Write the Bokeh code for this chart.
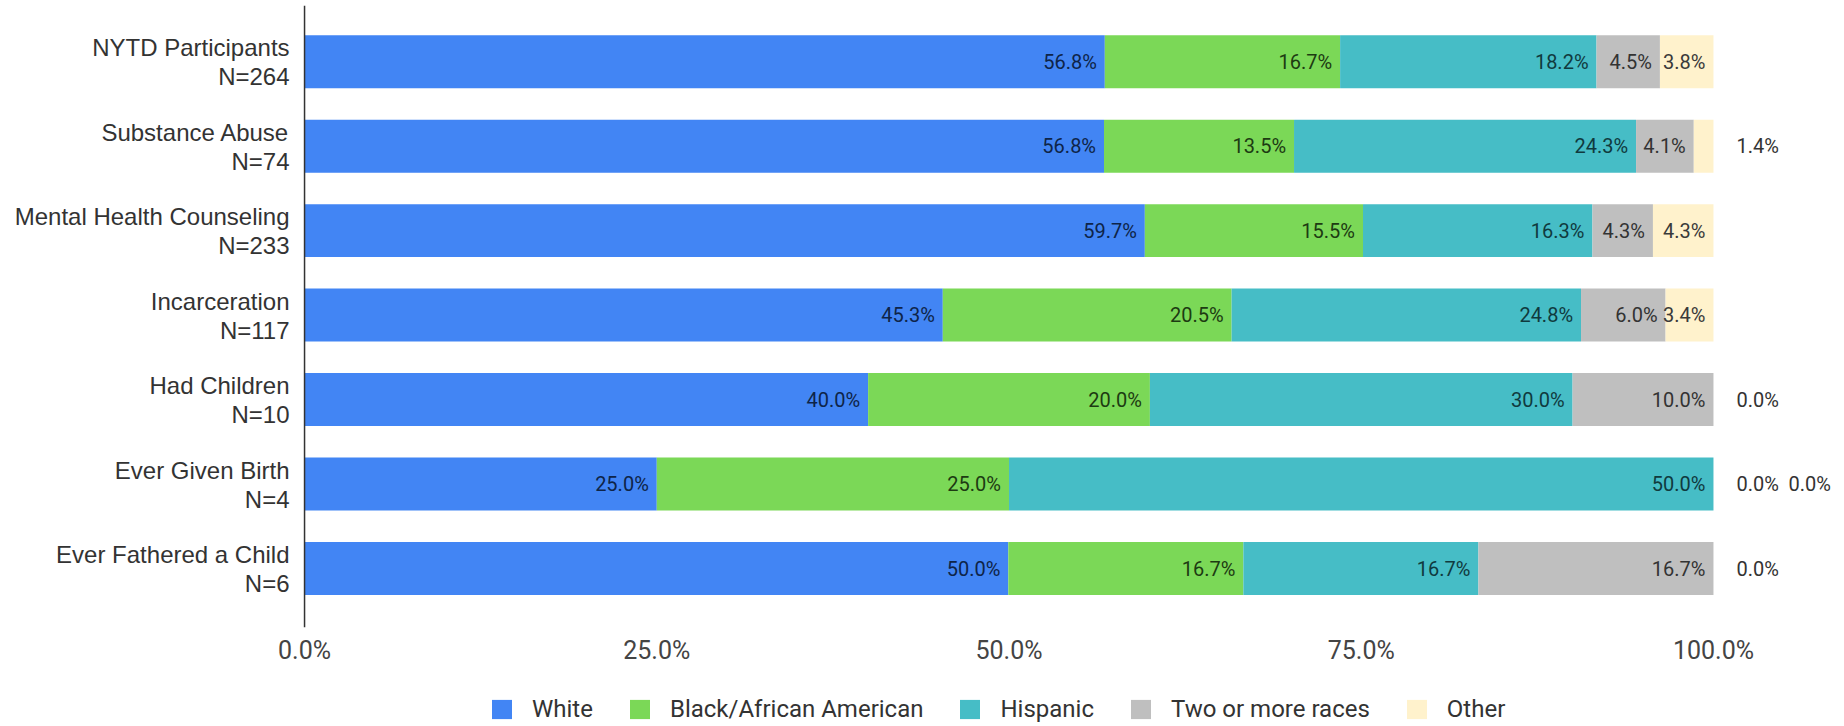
from bokeh.plotting import figure
from bokeh.layouts import column
from bokeh.models import (ColumnDataSource, Range1d, FixedTicker, Legend, LegendItem, Span)
from bokeh.core.properties import value
from bokeh.embed import file_html
from bokeh.resources import INLINE

categories = ["NYTD Participants", "Substance Abuse", "Mental Health Counseling",
              "Incarceration", "Had Children", "Ever Given Birth", "Ever Fathered a Child"]
sample_sizes = ["N=264", "N=74", "N=233", "N=117", "N=10", "N=4", "N=6"]
races = ["White", "Black/African American", "Hispanic", "Two or more races", "Other"]
white = [56.8, 56.8, 59.7, 45.3, 40.0, 25.0, 50.0]
black = [16.7, 13.5, 15.5, 20.5, 20.0, 25.0, 16.7]
hispanic = [18.2, 24.3, 16.3, 24.8, 30.0, 50.0, 16.7]
two_more = [4.5, 4.1, 4.3, 6.0, 10.0, 0.0, 16.7]
other = [3.8, 1.4, 4.3, 3.4, 0.0, 0.0, 0.0]
x_ticks = [0, 25, 50, 75, 100]
tick_labels = ["0.0%", "25.0%", "50.0%", "75.0%", "100.0%"]

colors = ["#4285F4", "#7BD857", "#46BDC6", "#BFBFBF", "#FFF2CC"]
label_colors = ["#0e2448", "#1d3b12", "#103a3e", "#333333", "#3a3a3a"]

series = [white, black, hispanic, two_more, other]
n = len(categories)
ypos = [n - 1 - k for k in range(n)]

p = figure(frame_width=1844, frame_height=622, output_backend="svg", toolbar_location=None,
           x_range=Range1d(-21.58, 109.3), y_range=Range1d(-0.698, 6.665),
           y_axis_location=None, min_border_left=0, min_border_right=0,
           min_border_top=5, min_border_bottom=55)
p.xgrid.visible = False
p.ygrid.visible = False
p.outline_line_color = None

totals = [sum(s[k] for s in series) for k in range(n)]
left = [0.0] * n
lab_x, lab_y, lab_t, lab_off, lab_align, lab_col = [], [], [], [], [], []
outside_count = [0] * n
for si, s in enumerate(series):
    right = [left[k] + s[k] / totals[k] * 100 for k in range(n)]
    src = ColumnDataSource(dict(y=ypos, left=list(left), right=right))
    p.hbar(y="y", left="left", right="right", height=0.627, source=src,
           fill_color=colors[si], line_color=None)
    for k in range(n):
        txt = f"{s[k]:.1f}%"
        if s[k] >= 2.5:
            lab_x.append(right[k]); lab_off.append(-8); lab_align.append("right")
            lab_col.append(label_colors[si])
        else:
            lab_x.append(100); lab_off.append(23 + 52 * outside_count[k]); lab_align.append("left")
            lab_col.append("#333333")
            outside_count[k] += 1
        lab_y.append(ypos[k]); lab_t.append(txt)
    left = right

lsrc = ColumnDataSource(dict(x=lab_x, y=lab_y, t=lab_t, off=lab_off, al=lab_align, c=lab_col))
p.text(x="x", y="y", text="t", x_offset="off", text_align="al", text_color="c",
       text_baseline="middle", text_font=value("Roboto"), text_font_size="20px", source=lsrc)

csrc = ColumnDataSource(dict(x=[0] * n, y=ypos, cat=categories, ns=sample_sizes))
p.text(x="x", y="y", text="cat", x_offset=-15, y_offset=-14, text_align="right",
       text_baseline="middle", text_font=value("Liberation Sans"), text_font_size="24px",
       text_color="#333333", source=csrc)
p.text(x="x", y="y", text="ns", x_offset=-15, y_offset=15, text_align="right",
       text_baseline="middle", text_font=value("Liberation Sans"), text_font_size="24px",
       text_color="#333333", source=csrc)

p.add_layout(Span(location=0, dimension="height", line_color="#333333", line_width=1.5))

ax = p.xaxis[0]
ax.ticker = FixedTicker(ticks=x_ticks)
ax.major_label_overrides = {t: l for t, l in zip(x_ticks, tick_labels)}
ax.axis_line_color = None
ax.major_tick_line_color = None
ax.minor_tick_line_color = None
ax.major_label_standoff = 2
ax.major_label_text_font = "Roboto"
ax.major_label_text_font_size = "25px"
ax.major_label_text_color = "#444444"

# legend strip below the chart
p2 = figure(width=1844, height=44, output_backend="svg", toolbar_location=None,
            x_range=Range1d(0, 1), y_range=Range1d(0, 1),
            x_axis_location=None, y_axis_location=None,
            min_border_left=0, min_border_right=0, min_border_top=0, min_border_bottom=0)
p2.xgrid.visible = False
p2.ygrid.visible = False
p2.outline_line_color = None
leg_renderers = []
for i in range(5):
    offscreen = ColumnDataSource(dict(y=[5], left=[5], right=[6]))
    leg_renderers.append(p2.hbar(y="y", left="left", right="right", height=1, source=offscreen,
                                 fill_color=colors[i], line_color=None))

legend = Legend(items=[LegendItem(label=races[i], renderers=[leg_renderers[i]]) for i in range(5)],
                orientation="horizontal", location=(489, 3))
legend.glyph_width = 25
legend.glyph_height = 24
legend.label_standoff = 18
legend.spacing = 34
legend.padding = 0
legend.margin = 0
legend.border_line_color = None
legend.background_fill_alpha = 0
legend.label_text_font = "Roboto"
legend.label_text_font_size = "24px"
legend.label_text_color = "#333333"
p2.add_layout(legend, "center")

layout = column(p, p2, spacing=0)
open("out.html", "w").write(file_html(layout, INLINE))
